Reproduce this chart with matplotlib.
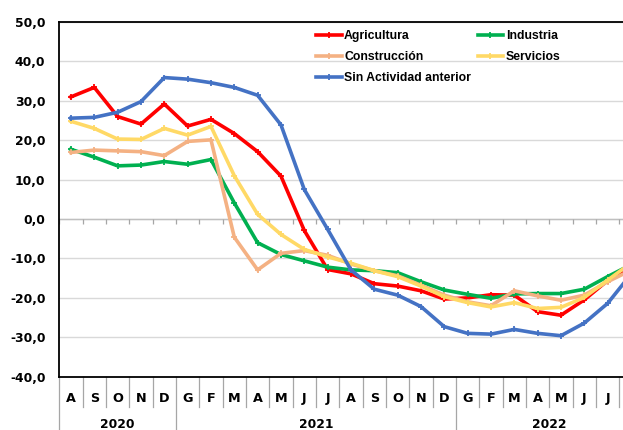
import numpy as np
import matplotlib
matplotlib.use('Agg')
import matplotlib.pyplot as plt
import matplotlib.transforms as mtransforms
from matplotlib.ticker import FuncFormatter

# datos
meses = ['A', 'S', 'O', 'N', 'D', 'G', 'F', 'M', 'A', 'M', 'J', 'J', 'A', 'S', 'O', 'N', 'D',
         'G', 'F', 'M', 'A', 'M', 'J', 'J', 'A']
anios = ['2020', '2021', '2022']
meses_por_anio = [5, 12, 8]

agricultura = [31.0, 33.4, 26.0, 24.1, 29.2, 23.6, 25.3, 21.7, 17.1, 10.9, -2.9, -12.8, -13.9,
               -16.4, -17.0, -18.2, -20.3, -20.0, -19.2, -19.3, -23.5, -24.4, -20.5, -15.6, -12.7]
industria = [17.7, 15.7, 13.5, 13.7, 14.6, 13.9, 15.1, 4.1, -6.0, -9.0, -10.6, -12.2, -12.9,
             -13.1, -13.6, -15.9, -18.0, -19.1, -20.1, -19.0, -18.9, -18.9, -17.8, -14.6, -11.6]
construccion = [16.9, 17.5, 17.3, 17.1, 16.1, 19.7, 20.1, -4.6, -12.9, -8.7, -8.0, -9.2, -11.4,
                -13.1, -14.4, -16.8, -19.3, -21.0, -22.0, -18.2, -19.5, -20.6, -19.3, -15.9, -13.0]
servicios = [24.8, 23.0, 20.3, 20.2, 23.0, 21.3, 23.5, 11.0, 1.2, -3.9, -7.7, -9.6, -11.2,
             -13.1, -14.6, -17.0, -19.7, -21.2, -22.3, -21.2, -22.7, -22.4, -19.9, -15.5, -11.2]
sin_actividad = [25.6, 25.8, 27.1, 29.8, 35.9, 35.5, 34.6, 33.4, 31.4, 23.9, 7.5, -2.6, -12.9,
                 -17.8, -19.3, -22.2, -27.3, -29.0, -29.2, -28.0, -29.0, -29.6, -26.4, -21.4, -14.0]

series = [
    ('Agricultura', agricultura, '#FF0000'),
    ('Industria', industria, '#00B050'),
    ('Construcción', construccion, '#F4B183'),
    ('Servicios', servicios, '#FFD966'),
    ('Sin Actividad anterior', sin_actividad, '#4472C4'),
]

fig = plt.figure(figsize=(6.23, 4.30), dpi=100)
# el eje sigue un poco mas alla del borde derecho, como en el original
ax = fig.add_axes([59.3 / 623, 53.3 / 430, 583.3 / 623, 354.7 / 430])

x = np.arange(len(meses))
lineas = {}
for nombre, vals, col in series:
    l, = ax.plot(x, vals, color=col, lw=2.6, marker='+', ms=5, mew=1.3, label=nombre)
    lineas[nombre] = l

ax.set_xlim(-0.5, len(meses) - 0.5)
ax.set_ylim(-40, 50)
ax.set_yticks(np.arange(-40, 51, 10))
ax.yaxis.set_major_formatter(FuncFormatter(lambda v, p: '{:.1f}'.format(v).replace('.', ',')))
ax.grid(axis='y', color='#D9D9D9', lw=1)
ax.set_axisbelow(True)
ax.axhline(0, color='#BFBFBF', lw=1, zorder=1)
ax.vlines(np.arange(-0.5, len(meses), 1), -1.2, 0, colors='#A6A6A6', lw=0.9, zorder=1)

for s in ['left', 'top', 'bottom']:
    ax.spines[s].set_color('black')
    ax.spines[s].set_linewidth(1.3)
ax.spines['right'].set_visible(False)

ax.tick_params(axis='y', length=0, pad=10, labelsize=8.9)
ax.tick_params(axis='x', length=0, pad=11, labelsize=9.2)
ax.set_xticks(x)
ax.set_xticklabels(meses)
for t in ax.get_xticklabels() + ax.get_yticklabels():
    t.set_fontweight('bold')
# el ultimo mes queda fuera de la imagen, igual que en el original
ax.get_xticklabels()[-1].set_visible(False)

# separadores y etiquetas de anio
trans = mtransforms.blended_transform_factory(ax.transData, ax.transAxes)
limites = np.cumsum([0] + meses_por_anio) - 0.5
for b in np.arange(-0.5, len(meses), 1):
    abajo = -0.2 if b in limites else -0.085
    ax.plot([b, b], [0, abajo], transform=trans, color='#A6A6A6', lw=0.9, clip_on=False)
for i, a in enumerate(anios):
    centro = (limites[i] + limites[i + 1]) / 2
    ax.text(centro, -0.117, a, transform=trans, ha='center', va='top',
            fontsize=8.9, fontweight='bold')

orden = ['Agricultura', 'Construcción', 'Sin Actividad anterior', 'Industria', 'Servicios']
ax.legend([lineas[n] for n in orden], orden, loc='upper left', bbox_to_anchor=(0.44, 0.977),
          ncol=2, frameon=False, borderpad=0, borderaxespad=0, handlelength=2.1,
          handletextpad=0.2, columnspacing=0.55, labelspacing=0.73,
          prop={'family': 'Liberation Sans', 'weight': 'bold', 'size': 8.8})

fig.savefig('out.png', dpi=100)
